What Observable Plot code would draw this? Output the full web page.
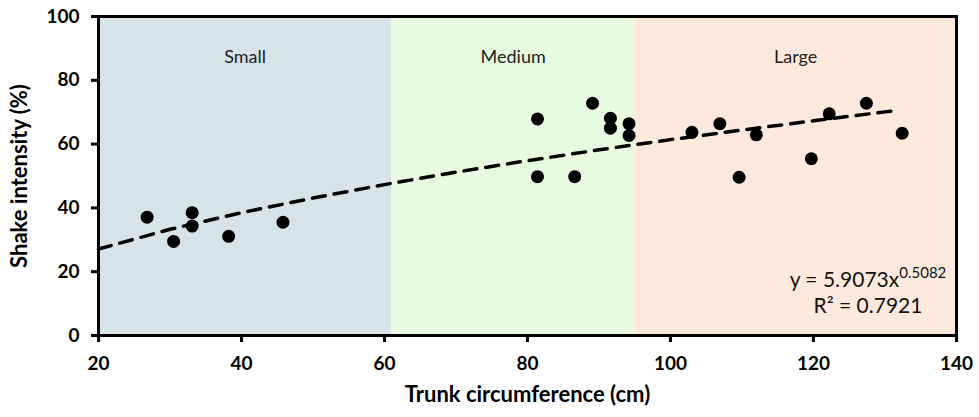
<!DOCTYPE html>
<html>
<head>
<meta charset="utf-8">
<script src="https://cdn.jsdelivr.net/npm/d3@7"></script>
<script src="https://cdn.jsdelivr.net/npm/@observablehq/plot@0.6"></script>
<style>
  html, body { margin: 0; padding: 0; background: #ffffff; }
  #chart svg { display: block; }
</style>
</head>
<body>
<div id="chart"></div>
<script>
// ---- data ----
const bandNames = ["Small", "Medium", "Large"];
const bandStart = [20, 61, 95];
const bandEnd = [61, 95, 140];
const bandColors = ["#d6e4ea", "#e7fbe0", "#fde9dd"];

const circumference = [26.8, 30.5, 33.1, 33.1, 38.2, 45.8,
  81.4, 81.4, 86.6, 89.1, 91.6, 91.6, 94.2, 94.2,
  103.0, 106.9, 109.6, 112.0, 119.7, 122.2, 127.4, 132.4];
const intensity = [37.1, 29.5, 38.5, 34.3, 31.1, 35.5,
  67.9, 49.8, 49.8, 72.8, 68.1, 65.0, 66.4, 62.7,
  63.7, 66.4, 49.6, 62.9, 55.4, 69.5, 72.8, 63.4];

// trend line (power fit shown in the chart)
const trendX = [20, 30, 40, 50, 60, 70, 80, 90, 100, 110, 120, 130, 132];
const trendY = [27.1, 33.3, 38.5, 43.1, 47.3, 51.2, 54.8, 58.2, 61.4, 64.4, 67.3, 70.1, 70.6];

const xTicks = [20, 40, 60, 80, 100, 120, 140];
const yTicks = [0, 20, 40, 60, 80, 100];

const equationMain = "y = 5.9073x";
const equationExp = "0.5082";
const rSquared = "R\u00b2 = 0.7921";

// ---- build tables ----
const bands = bandNames.map((name, i) => ({name, x1: bandStart[i], x2: bandEnd[i], color: bandColors[i]}));
const points = circumference.map((c, i) => ({c, s: intensity[i]}));
const trend = trendX.map((x, i) => ({x, y: trendY[i]}));

const FONT = "Lato, 'Open Sans', sans-serif";

const chart = Plot.plot({
  width: 979,
  height: 417,
  marginLeft: 98,
  marginRight: 23,
  marginTop: 16,
  marginBottom: 82,
  style: {fontFamily: FONT, background: "#ffffff", color: "#000"},
  x: {domain: [20, 140]},
  y: {domain: [0, 100]},
  marks: [
    Plot.rect(bands, {x1: "x1", x2: "x2", y1: 0, y2: 100, fill: "color"}),
    Plot.text(bands, {x: d => (d.x1 + d.x2) / 2, text: "name", frameAnchor: "top", dy: 34,
      fontSize: 18, fill: "#222", fontFamily: FONT}),
    Plot.line(trend, {x: "x", y: "y", stroke: "#000", strokeWidth: 3.5, strokeDasharray: "13,9", curve: "linear"}),
    Plot.dot(points, {x: "c", y: "s", r: 6.5, fill: "#000", stroke: "none"}),
    Plot.axisX({ticks: xTicks, tickSize: 7, tickPadding: 14, fontSize: 19, fontWeight: "bold",
      strokeWidth: 3, label: "Trunk circumference (cm)", labelAnchor: "center", labelArrow: "none", labelOffset: 66}),
    Plot.axisY({ticks: yTicks, tickSize: 7, tickPadding: 12, fontSize: 19, fontWeight: "bold",
      strokeWidth: 3, label: "Shake intensity (%)", labelAnchor: "center", labelArrow: "none", labelOffset: 87}),
    Plot.frame({stroke: "#000", strokeWidth: 3})
  ]
});

// style axis labels
d3.select(chart).selectAll("[aria-label='x-axis label'], [aria-label='y-axis label']")
  .attr("font-size", 22).attr("font-weight", "bold");
d3.select(chart).selectAll("[aria-label='x-axis label'] text, [aria-label='y-axis label'] text")
  .attr("font-size", 22).attr("font-weight", "bold");

// equation annotation with superscript
const xs = chart.scale("x"), ys = chart.scale("y");
const eqX = xs.apply(140) - 88;
const g = d3.select(chart).append("g")
  .attr("font-family", FONT).attr("font-size", 21).attr("fill", "#111").attr("text-anchor", "middle");
const t1 = g.append("text").attr("x", eqX).attr("y", ys.apply(0) - 48);
t1.append("tspan").text(equationMain);
t1.append("tspan").attr("font-size", 15).attr("dy", -9).text(equationExp);
g.append("text").attr("x", eqX).attr("y", ys.apply(0) - 22).text(rSquared);

document.getElementById("chart").appendChild(chart);
</script>
</body>
</html>
